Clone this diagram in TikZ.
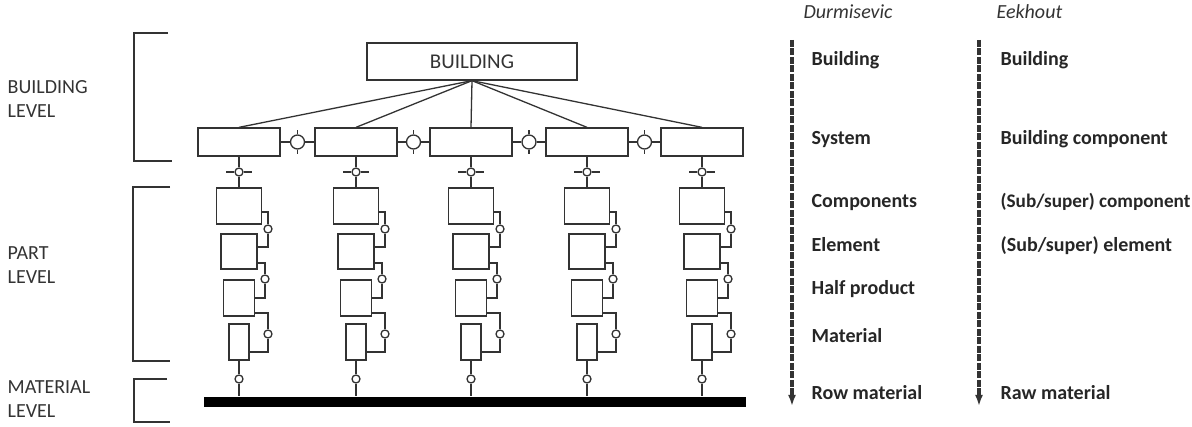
\documentclass[tikz,border=0pt]{standalone}
\usepackage{fontspec}
\setmainfont{Carlito}
\usetikzlibrary{arrows.meta,calc}
\definecolor{ink}{HTML}{333333}

\begin{document}
\begin{tikzpicture}[x=1pt, y=-1pt, color=ink, line width=1.3pt,
	box/.style={draw, rectangle, inner sep=0pt},
	bigjoint/.style={draw, circle, minimum size=14pt, inner sep=0pt},
	joint/.style={draw, circle, minimum size=8pt, inner sep=0pt},
	bracket/.style={line width=1.6pt},
	lvl/.style={font=\fontsize{20}{24}\selectfont, align=left, anchor=west, inner sep=0pt},
	item/.style={font=\fontsize{20}{24}\selectfont\bfseries, anchor=base west, inner sep=0pt, text=black!85},
	head/.style={font=\fontsize{20}{24}\selectfont\itshape, anchor=base west, inner sep=0pt},
	flow/.style={line width=3.2pt, dash pattern=on 7pt off 1.5pt, -{Latex[length=11pt,width=8pt]}}]
	\useasboundingbox (0,0) rectangle (1192,427);

	% levels on the left
	\draw[bracket] (168,33) -- (134,33) -- (134,161) -- (172,161);
	\draw[bracket] (170,187) -- (133,187) -- (133,361) -- (170,361);
	\draw[bracket] (167,379) -- (134,379) -- (134,422) -- (170,422);
	\node[lvl] (lvlbldg) at (7,99) {BUILDING\\LEVEL};
	\node[lvl] (lvlpart) at (7,265) {PART\\LEVEL};
	\node[lvl] (lvlmat) at (7,399) {MATERIAL\\LEVEL};

	% tree
	\node[box, minimum width=210pt, minimum height=37pt, font=\fontsize{21}{25}\selectfont] (bldg) at (472,61.5) {BUILDING};
	\node[fill=black, minimum width=542pt, minimum height=10pt, inner sep=0pt] (bar) at (475,402) {};

	\foreach \i/\x in {1/239,2/356,3/471,4/587,5/702} {
		\node[box, minimum width=82pt, minimum height=28pt] (sys\i) at (\x,142) {};
		\draw (bldg.south) -- (sys\i.north);
		\node[joint] (top\i) at (\x,172) {};
		\draw ([xshift=-8pt]top\i.west) -- (top\i.west);
		\draw (top\i.east) -- ([xshift=8pt]top\i.east);

		\node[box, minimum width=45pt, minimum height=36pt] (cmp\i) at (\x,206) {};
		\node[box, minimum width=36pt, minimum height=35pt] (elm\i) at (\x,251.5) {};
		\node[box, minimum width=31pt, minimum height=36pt] (hlf\i) at (\x,298) {};
		\node[box, minimum width=20pt, minimum height=36pt] (mat\i) at (\x,342) {};
		\draw (sys\i.south) -- (top\i.north);
		\draw (top\i.south) -- (cmp\i.north);

		\node[joint] (ja\i) at (\x+29,229) {};
		\node[joint] (jb\i) at (\x+26,279) {};
		\node[joint] (jc\i) at (\x+29,334) {};
		\draw ([yshift=-6pt]cmp\i.east) -| (ja\i.north);
		\draw (ja\i.south) |- ([yshift=4.5pt]elm\i.east);
		\draw ([yshift=-11.5pt]elm\i.east) -| (jb\i.north);
		\draw (jb\i.south) |- (hlf\i.east);
		\draw ([yshift=-15pt]hlf\i.east) -| (jc\i.north);
		\draw (jc\i.south) |- ([yshift=-10pt]mat\i.east);

		\node[joint] (bot\i) at (\x,379) {};
		\draw (mat\i.south) -- (bot\i.north);
		\draw (bot\i.south) -- (bot\i |- bar.north);
	}

	\foreach \i/\j in {1/2,2/3,3/4,4/5} {
		\node[bigjoint] (bj\i) at ($(sys\i.east)!0.5!(sys\j.west)$) {};
		\draw (sys\i.east) -- (bj\i.west);
		\draw (bj\i.east) -- (sys\j.west);
		\draw (bj\i.north) -- ++(0,-4);
		\draw (bj\i.south) -- ++(0,4);
	}

	% Durmisevic
	\node[head] (durm) at (803,19) {Durmisevic};
	\coordinate (dtop) at (792,40);
	\coordinate (dbot) at (792,406);
	\draw[flow] (dtop) -- (dbot);
	\node[item] (dbldg) at (811,66) {Building};
	\node[item] (dsys) at (811,145) {System};
	\node[item] (dcmp) at (811,208) {Components};
	\node[item] (delm) at (811,252) {Element};
	\node[item] (dhlf) at (811,295) {Half product};
	\node[item] (dmat) at (811,343) {Material};
	\node[item] (drow) at (811,400) {Row material};

	% Eekhout
	\node[head] (eek) at (996,19) {Eekhout};
	\coordinate (etop) at (979,40);
	\coordinate (ebot) at (979,406);
	\draw[flow] (etop) -- (ebot);
	\node[item] (ebldg) at (1000,66) {Building};
	\node[item] (ebcmp) at (1000,145) {Building component};
	\node[item, font=\fontsize{19.2}{23}\selectfont\bfseries] (ecmp) at (1000,208) {(Sub/super) component};
	\node[item] (eelm) at (1000,252) {(Sub/super) element};
	\node[item] (eraw) at (1000,400) {Raw material};
\end{tikzpicture}
\end{document}
